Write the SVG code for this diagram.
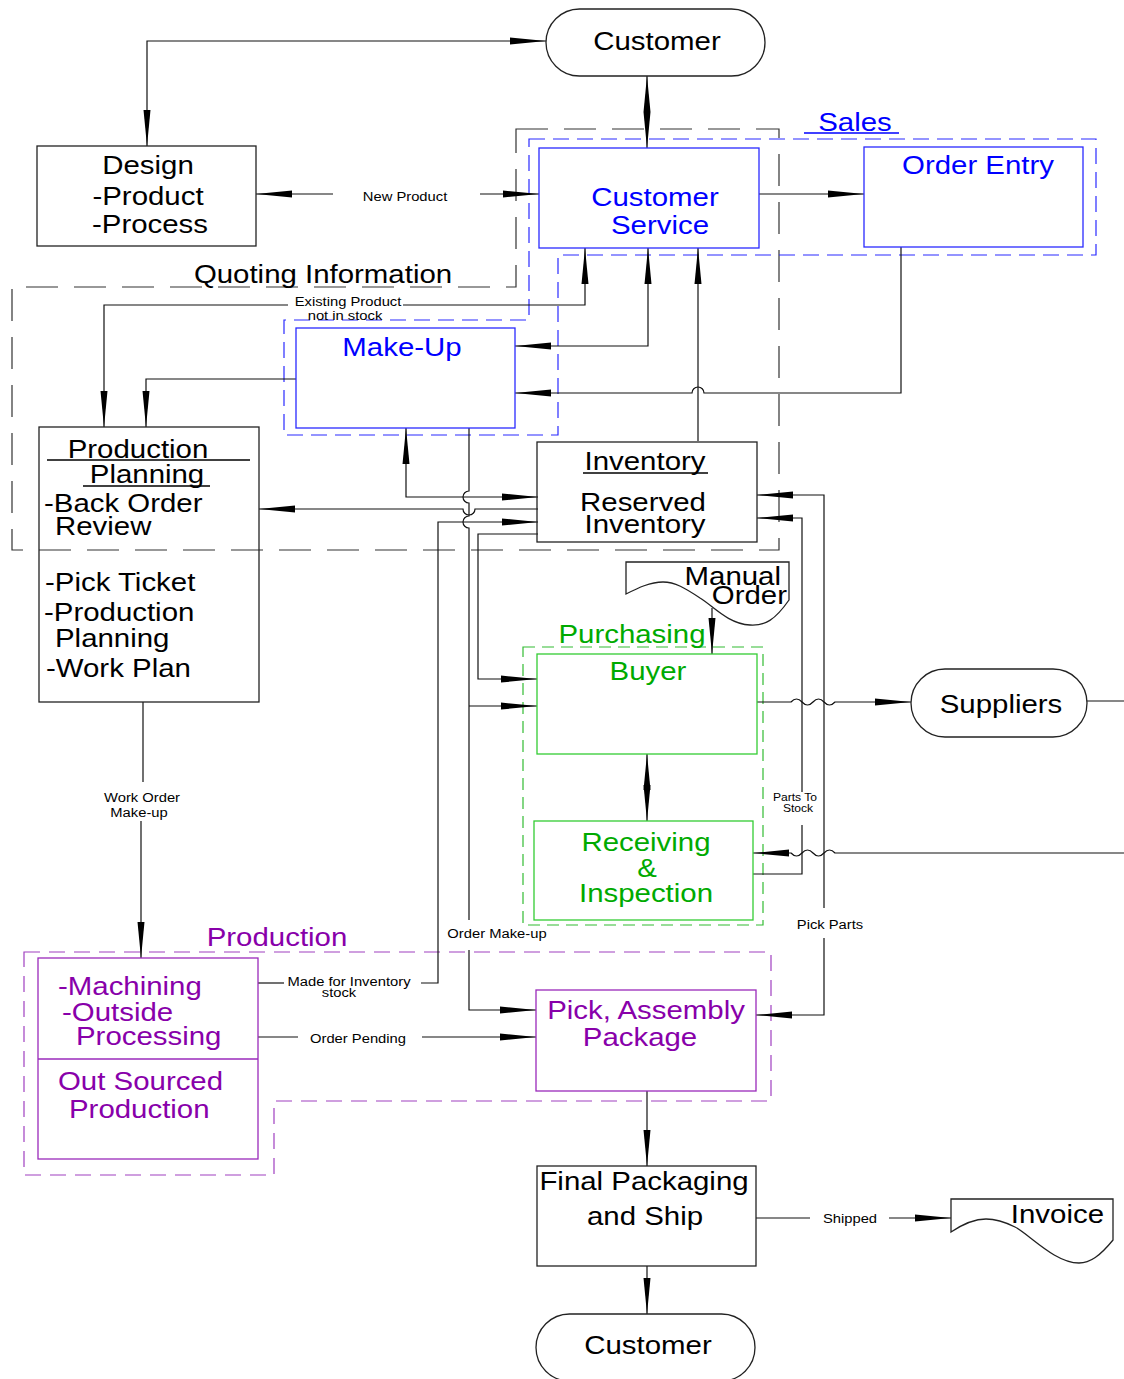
<svg xmlns="http://www.w3.org/2000/svg" width="1124" height="1379" viewBox="0 0 1124 1379">
<defs>
<marker id="ah" viewBox="0 0 36 8" markerWidth="36" markerHeight="8" refX="36" refY="4" orient="auto-start-reverse" markerUnits="userSpaceOnUse"><path d="M0,0.5 L36,4 L0,7.5 Z" fill="#000"/></marker>
</defs>
<style>
text{font-family:"Liberation Sans",Arial,sans-serif;}
.big{font-size:26.5px;}
.sm{font-size:13.3px;}
.xs{font-size:11px;}
.m{text-anchor:middle;}
.e{text-anchor:end;}
.k{fill:#000}
.b{fill:#0000ff}
.g{fill:#00aa00}
.p{fill:#8800aa}
.box{fill:none;stroke:#222;stroke-width:1.3}
.bbox{fill:none;stroke:#2a2aff;stroke-width:1.3}
.gbox{fill:none;stroke:#33cc33;stroke-width:1.3}
.pbox{fill:none;stroke:#9a2abb;stroke-width:1.3}
.conn path{fill:none;stroke:#111;stroke-width:1.2}
.ul{stroke:#000;stroke-width:1.3}
.bul{stroke:#0000ff;stroke-width:1.3}
.rk{fill:none;stroke:#333;stroke-width:1.2;stroke-dasharray:32 16}
.rb{fill:none;stroke:#2a2aff;stroke-width:1.2;stroke-dasharray:16 8}
.rg{fill:none;stroke:#33bb33;stroke-width:1.2;stroke-dasharray:12 7}
.rp{fill:none;stroke:#a040c0;stroke-width:1.2;stroke-dasharray:16 9}
</style>
<rect x="0" y="0" width="1124" height="1379" fill="#fff"/>

<g id="regions">
  <g id="quoting">
    <polygon class="rk" points="516,129 779,129 779,550 12,550 12,287 516,287"/>
    <text class="big m k" transform="translate(323 283) scale(1.11 1)">Quoting Information</text>
  </g>
  <g id="sales">
    <polygon class="rb" points="529,139 1096,139 1096,255 558,255 558,435 284,435 284,320 529,320"/>
    <text class="big m b" transform="translate(855 131) scale(1.11 1)">Sales</text>
    <line class="bul" x1="804" y1="133" x2="899" y2="133"/>
  </g>
  <g id="purchasing">
    <rect class="rg" x="523" y="647" width="240" height="278"/>
    <text class="big m g" transform="translate(632 643) scale(1.11 1)">Purchasing</text>
  </g>
  <g id="production">
    <polygon class="rp" points="24,952 771,952 771,1101 274,1101 274,1175 24,1175"/>
    <text class="big m p" transform="translate(277 946) scale(1.11 1)">Production</text>
  </g>
</g>

<g id="connectors" class="conn">
  <path d="M546,41 H147 V146" marker-start="url(#ah)" marker-end="url(#ah)"/>
  <path d="M647,76 V148" marker-start="url(#ah)" marker-end="url(#ah)"/>
  <path d="M256,194 H333" marker-start="url(#ah)"/>
  <path d="M480,194 H539" marker-end="url(#ah)"/>
  <path d="M759,194 H864" marker-end="url(#ah)"/>
  <path d="M585,248 V305 H403" marker-start="url(#ah)"/>
  <path d="M288,305 H104 V427" marker-end="url(#ah)"/>
  <path d="M515,346 H648 V248" marker-start="url(#ah)" marker-end="url(#ah)"/>
  <path d="M698,441 V248" marker-end="url(#ah)"/>
  <path d="M901,247 V393 H704 A6,6 0 0 0 692,393 H515" marker-end="url(#ah)"/>
  <path d="M296,379 H146 V427" marker-end="url(#ah)"/>
  <path d="M538,497 H406 V428" marker-start="url(#ah)" marker-end="url(#ah)"/>
  <path d="M538,509 H475 A6,6 0 0 1 463,509 H259" marker-end="url(#ah)"/>
  <path d="M469,428 V491 a6,6 0 0 0 0,12 V516 a6,6 0 0 0 0,12 V920"/>
  <path d="M469,950 V1010 H536" marker-end="url(#ah)"/>
  <path d="M469,706 H537" marker-end="url(#ah)"/>
  <path d="M538,534 H478 V679 H537" marker-end="url(#ah)"/>
  <path d="M258,983 H284"/>
  <path d="M421,983 H438 V522 H538" marker-end="url(#ah)"/>
  <path d="M258,1037 H298"/>
  <path d="M422,1037 H536" marker-end="url(#ah)"/>
  <path d="M143,702 V782"/>
  <path d="M141,821 V958" marker-end="url(#ah)"/>
  <path d="M712,608 V654" marker-end="url(#ah)"/>
  <path d="M647,754 V821" marker-start="url(#ah)" marker-end="url(#ah)"/>
  <path d="M757,702 H791 q5.5,-6 11,0 q5.5,6 11,0 q5.5,-6 11,0 q5.5,6 11,0 H911" marker-end="url(#ah)"/>
  <path d="M1087,701 H1124"/>
  <path d="M1124,853 H835 q-5.5,-6 -11,0 q-5.5,6 -11,0 q-5.5,-6 -11,0 q-5.5,6 -11,0 H753" marker-end="url(#ah)"/>
  <path d="M753,874 H802 V825"/>
  <path d="M802,792 V518 H757" marker-end="url(#ah)"/>
  <path d="M757,495 H824 V908" marker-start="url(#ah)"/>
  <path d="M824,938 V1015 H756" marker-end="url(#ah)"/>
  <path d="M647,1091 V1166" marker-end="url(#ah)"/>
  <path d="M647,1266 V1314" marker-end="url(#ah)"/>
  <path d="M756,1218 H810"/>
  <path d="M889,1218 H951" marker-end="url(#ah)"/>
  <text class="sm m k" transform="translate(405 201) scale(1.11 1)">New Product</text>
  <text class="sm m k" transform="translate(348 306) scale(1.11 1)">Existing Product</text>
  <text class="sm m k" transform="translate(345 320) scale(1.11 1)">not in stock</text>
  <text class="sm m k" transform="translate(142 802) scale(1.11 1)">Work Order</text>
  <text class="sm m k" transform="translate(139 817) scale(1.11 1)">Make-up</text>
  <text class="sm m k" transform="translate(349 986) scale(1.11 1)">Made for Inventory</text>
  <text class="sm m k" transform="translate(339 997) scale(1.11 1)">stock</text>
  <text class="sm m k" transform="translate(358 1043) scale(1.11 1)">Order Pending</text>
  <text class="sm m k" transform="translate(497 938) scale(1.11 1)">Order Make-up</text>
  <text class="xs m k" transform="translate(795 801) scale(1.1 1)">Parts To</text>
  <text class="xs m k" transform="translate(798 812) scale(1.1 1)">Stock</text>
  <text class="sm m k" transform="translate(830 929) scale(1.11 1)">Pick Parts</text>
  <text class="sm m k" transform="translate(850 1223) scale(1.11 1)">Shipped</text>
</g>

<g id="customer-top">
  <rect class="box" x="546" y="9" width="219" height="67" rx="33.5" ry="33.5"/>
  <text class="big m k" transform="translate(657 50) scale(1.11 1)">Customer</text>
</g>
<g id="design">
  <rect class="box" x="37" y="146" width="219" height="100"/>
  <text class="big m k" transform="translate(148 174) scale(1.11 1)">Design</text>
  <text class="big m k" transform="translate(148 205) scale(1.11 1)">-Product</text>
  <text class="big m k" transform="translate(150 233) scale(1.11 1)">-Process</text>
</g>
<g id="customer-service">
  <rect class="bbox" x="539" y="148" width="220" height="100"/>
  <text class="big m b" transform="translate(655 206) scale(1.11 1)">Customer</text>
  <text class="big m b" transform="translate(660 234) scale(1.11 1)">Service</text>
</g>
<g id="order-entry">
  <rect class="bbox" x="864" y="147" width="219" height="100"/>
  <text class="big m b" transform="translate(978 174) scale(1.11 1)">Order Entry</text>
</g>
<g id="make-up">
  <rect class="bbox" x="296" y="328" width="219" height="100"/>
  <text class="big m b" transform="translate(402 356) scale(1.11 1)">Make-Up</text>
</g>
<g id="production-planning">
  <rect class="box" x="39" y="427" width="220" height="275"/>
  <text class="big m k" transform="translate(138 458) scale(1.11 1)">Production</text>
  <line class="ul" x1="47" y1="460" x2="250" y2="460"/>
  <text class="big m k" transform="translate(147 483) scale(1.11 1)">Planning</text>
  <line class="ul" x1="83" y1="486" x2="210" y2="486"/>
  <text class="big k" transform="translate(44 512) scale(1.11 1)">-Back Order</text>
  <text class="big k" transform="translate(55 535) scale(1.11 1)">Review</text>
  <text class="big k" transform="translate(45 591) scale(1.11 1)">-Pick Ticket</text>
  <text class="big k" transform="translate(44 621) scale(1.11 1)">-Production</text>
  <text class="big k" transform="translate(55 647) scale(1.11 1)">Planning</text>
  <text class="big k" transform="translate(46 677) scale(1.11 1)">-Work Plan</text>
</g>
<g id="inventory">
  <rect class="box" x="537" y="442" width="220" height="100"/>
  <text class="big m k" transform="translate(645 470) scale(1.11 1)">Inventory</text>
  <line class="ul" x1="583" y1="473" x2="708" y2="473"/>
  <text class="big m k" transform="translate(643 511) scale(1.11 1)">Reserved</text>
  <text class="big m k" transform="translate(645 533) scale(1.11 1)">Inventory</text>
</g>
<g id="manual-order">
  <path class="box" d="M626,562 H789 V600 C775,620 765,626 750,625 C728,624 712,605 700,598 C685,588 675,582 663,582 C650,582 638,588 626,594 Z"/>
  <text class="big e k" transform="translate(781 585) scale(1.11 1)">Manual</text>
  <text class="big e k" transform="translate(787 604) scale(1.11 1)">Order</text>
</g>
<g id="buyer">
  <rect class="gbox" x="537" y="654" width="220" height="100"/>
  <text class="big m g" transform="translate(648 680) scale(1.11 1)">Buyer</text>
</g>
<g id="receiving">
  <rect class="gbox" x="534" y="821" width="219" height="99"/>
  <text class="big m g" transform="translate(646 851) scale(1.11 1)">Receiving</text>
  <text class="big m g" transform="translate(647 877) scale(1.11 1)">&amp;</text>
  <text class="big m g" transform="translate(646 902) scale(1.11 1)">Inspection</text>
</g>
<g id="suppliers">
  <rect class="box" x="911" y="669" width="176" height="68" rx="34" ry="34"/>
  <text class="big m k" transform="translate(1001 713) scale(1.11 1)">Suppliers</text>
</g>
<g id="machining">
  <rect class="pbox" x="38" y="958" width="220" height="201"/>
  <line class="pbox" x1="38" y1="1059" x2="258" y2="1059"/>
  <text class="big p" transform="translate(58 995) scale(1.11 1)">-Machining</text>
  <text class="big p" transform="translate(62 1021) scale(1.11 1)">-Outside</text>
  <text class="big p" transform="translate(76 1045) scale(1.11 1)">Processing</text>
  <text class="big p" transform="translate(58 1090) scale(1.11 1)">Out Sourced</text>
  <text class="big p" transform="translate(69 1118) scale(1.11 1)">Production</text>
</g>
<g id="pick-assembly">
  <rect class="pbox" x="536" y="990" width="220" height="101"/>
  <text class="big m p" transform="translate(646 1019) scale(1.11 1)">Pick, Assembly</text>
  <text class="big m p" transform="translate(640 1046) scale(1.11 1)">Package</text>
</g>
<g id="final-packaging">
  <rect class="box" x="537" y="1166" width="219" height="100"/>
  <text class="big m k" transform="translate(644 1190) scale(1.11 1)">Final Packaging</text>
  <text class="big m k" transform="translate(645 1225) scale(1.11 1)">and Ship</text>
</g>
<g id="customer-bottom">
  <rect class="box" x="536" y="1314" width="219" height="67" rx="33.5" ry="33.5"/>
  <text class="big m k" transform="translate(648 1354) scale(1.11 1)">Customer</text>
</g>
<g id="invoice">
  <path class="box" d="M951,1199 H1113 V1240 C1100,1256 1090,1263 1079,1263 C1055,1263 1030,1235 1015,1227 C1005,1222 995,1219 986,1219 C972,1219 960,1226 951,1232 Z"/>
  <text class="big e k" transform="translate(1104 1223) scale(1.11 1)">Invoice</text>
</g>
</svg>
